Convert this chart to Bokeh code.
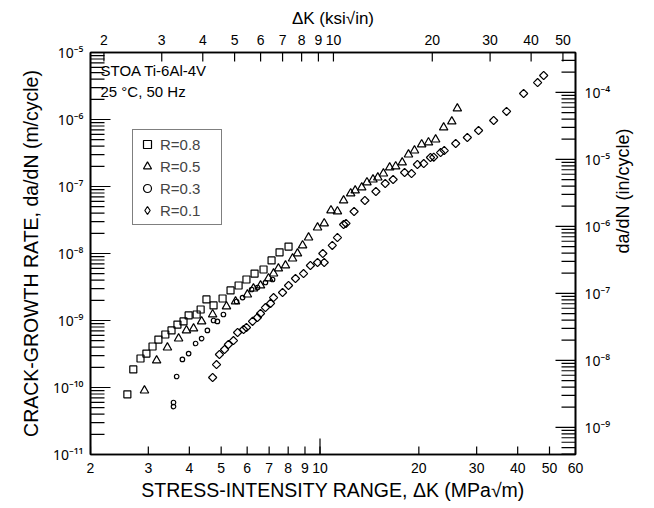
import math
from bokeh.plotting import figure
from bokeh.models import (LogAxis, Range1d, LogScale, FixedTicker,
                          CustomJSTickFormatter, Legend, LegendItem, Label)
from bokeh.embed import file_html
from bokeh.resources import INLINE

# ---------------- data (ΔK in MPa√m, da/dN in m/cycle) ----------------
k_r08 = [2.59, 2.70, 2.84, 2.96, 3.09, 3.22, 3.38, 3.53, 3.68, 3.84, 3.98, 4.21,
         4.33, 4.51, 4.74, 5.05, 5.34, 5.65, 5.97, 6.32, 6.73, 7.12, 7.53, 8.02]
dadn_r08 = [7.9e-11, 1.86e-10, 2.71e-10, 3.21e-10, 4.09e-10, 5.2e-10, 6.18e-10,
            7.1e-10, 8.7e-10, 9.7e-10, 1.19e-9, 1.23e-9, 1.46e-9, 2.06e-9, 1.68e-9,
            2.13e-9, 2.81e-9, 3.33e-9, 4.09e-9, 5.02e-9, 5.77e-9, 7.87e-9, 1.04e-8, 1.27e-8]

k_r05 = [2.92, 3.18, 3.43, 3.71, 3.92, 4.12, 4.36, 4.71, 5.19, 5.53, 6.01, 6.27,
         6.59, 6.97, 7.22, 7.47, 7.85, 8.25, 8.54, 8.85, 9.23, 9.83, 10.3, 10.8,
         11.3, 11.8, 12.4, 12.8, 13.4, 13.9, 14.5, 15.0, 15.6, 16.3, 17.0, 17.8,
         18.6, 19.4, 20.4, 21.4, 22.5, 23.8, 25.2, 26.2]
dadn_r05 = [9.0e-11, 2.53e-10, 3.95e-10, 5.38e-10, 7.1e-10, 7.6e-10, 9.7e-10, 1.23e-9,
            1.62e-9, 1.92e-9, 2.44e-9, 3.0e-9, 3.33e-9, 4.24e-9, 5.02e-9, 5.97e-9,
            6.62e-9, 8.41e-9, 1.0e-8, 1.32e-8, 1.73e-8, 2.44e-8, 2.81e-8, 4.39e-8,
            4.24e-8, 6.18e-8, 7.87e-8, 8.71e-8, 9.66e-8, 1.15e-7, 1.27e-7, 1.36e-7,
            1.56e-7, 1.92e-7, 1.99e-7, 2.28e-7, 3.0e-7, 3.44e-7, 4.24e-7, 4.54e-7,
            5.02e-7, 7.6e-7, 9.33e-7, 1.46e-6]

k_r03 = [3.58, 3.58, 3.66, 3.81, 3.98, 4.18, 4.36, 4.54, 4.74, 4.87, 5.08, 5.57,
         5.81, 6.19, 6.45, 6.82, 7.17]
dadn_r03 = [5.97e-11, 5.2e-11, 1.46e-10, 2.62e-10, 3.21e-10, 4.54e-10, 5.38e-10,
            7.1e-10, 1.0e-9, 9.7e-10, 1.23e-9, 1.92e-9, 2.2e-9, 2.9e-9, 3.11e-9,
            3.69e-9, 4.09e-9]

k_r01 = [4.71, 4.84, 4.94, 5.12, 5.26, 5.45, 5.61, 5.85, 5.97, 6.23, 6.45, 6.59,
         6.82, 7.07, 7.22, 7.69, 8.02, 8.42, 8.91, 9.35, 9.83, 10.2, 10.3, 10.9,
         11.3, 11.8, 12.0, 12.7, 13.7, 14.8, 15.8, 16.7, 18.1, 19.0, 19.8, 20.7,
         21.7, 22.2, 23.3, 23.9, 25.9, 28.1, 30.4, 33.8, 37.0, 41.7, 46.0, 48.0]
dadn_r01 = [1.41e-10, 2.2e-10, 3.11e-10, 3.69e-10, 4.39e-10, 5.02e-10, 6.62e-10,
            7.35e-10, 7.87e-10, 9.7e-10, 1.11e-9, 1.27e-9, 1.56e-9, 1.8e-9, 2.2e-9,
            2.62e-9, 3.33e-9, 4.24e-9, 5.02e-9, 6.62e-9, 7.35e-9, 1.0e-8, 7.35e-9,
            1.32e-8, 1.73e-8, 2.71e-8, 2.81e-8, 4.24e-8, 6.18e-8, 8.41e-8, 1.11e-7,
            1.27e-7, 1.62e-7, 1.56e-7, 2.13e-7, 2.2e-7, 2.71e-7, 2.74e-7, 3.21e-7,
            3.44e-7, 4.39e-7, 5.38e-7, 6.86e-7, 9.66e-7, 1.32e-6, 2.44e-6, 3.56e-6,
            4.54e-6]

series_labels = ["R=0.8", "R=0.5", "R=0.3", "R=0.1"]

# ---------------- ticks ----------------
x_ticks = [2, 3, 4, 5, 6, 7, 8, 9, 10, 20, 30, 40, 50, 60]
x_tick_labels = ["2", "3", "4", "5", "6", "7", "8", "9", "10", "20", "30", "40", "50", "60"]
top_ticks = [2, 3, 4, 5, 6, 7, 8, 9, 10, 20, 30, 40, 50]
top_tick_labels = ["2", "3", "4", "5", "6", "7", "8", "9", "10", "20", "30", "40", "50"]
y_ticks = [1e-11, 1e-10, 1e-9, 1e-8, 1e-7, 1e-6, 1e-5]
y_tick_labels = ["10⁻¹¹", "10⁻¹⁰", "10⁻⁹", "10⁻⁸", "10⁻⁷", "10⁻⁶", "10⁻⁵"]
right_ticks = [1e-9, 1e-8, 1e-7, 1e-6, 1e-5, 1e-4]
right_tick_labels = ["10⁻⁹", "10⁻⁸", "10⁻⁷", "10⁻⁶", "10⁻⁵", "10⁻⁴"]

MPA_PER_KSI = 1.0988
IN_PER_M = 39.37
X_MIN, X_MAX = 2, 60
Y_MIN, Y_MAX = 1e-11, 1e-5

FONT = "Liberation Sans"
SUP_FONT = "Noto Sans"

# ---------------- layout (pixels) ----------------
W, H = 654, 508
F_LEFT, F_RIGHT, F_TOP, F_BOTTOM = 90, 575, 52, 454

def px_to_x(px):
    f = (px - F_LEFT) / (F_RIGHT - F_LEFT)
    return X_MIN * (X_MAX / X_MIN) ** f

def px_to_y(py):
    f = (F_BOTTOM - py) / (F_BOTTOM - F_TOP)
    return Y_MIN * (Y_MAX / Y_MIN) ** f

def fmt(tv, tl):
    return CustomJSTickFormatter(args=dict(tv=tv, tl=tl), code="""
        for (let i = 0; i < tv.length; i++) {
            if (Math.abs(Math.log10(tv[i]) - Math.log10(tick)) < 1e-6) return tl[i];
        }
        return "";
    """)

def log_minor(lo, hi):
    out = []
    for e in range(-14, 4):
        for m in range(2, 10):
            v = m * 10.0 ** e
            if lo < v < hi:
                out.append(v)
    return out

p = figure(width=W, height=H, x_axis_type="log", y_axis_type="log",
           x_range=Range1d(X_MIN, X_MAX), y_range=Range1d(Y_MIN, Y_MAX),
           output_backend="svg", toolbar_location=None,
           min_border_left=F_LEFT, min_border_right=W - F_RIGHT,
           min_border_top=F_TOP, min_border_bottom=H - F_BOTTOM)
p.xgrid.visible = False
p.ygrid.visible = False
p.outline_line_color = "black"
p.outline_line_width = 1.6
p.background_fill_color = None
p.border_fill_color = "white"

p.extra_x_ranges = {"ksi": Range1d(X_MIN / MPA_PER_KSI, X_MAX / MPA_PER_KSI)}
p.extra_x_scales = {"ksi": LogScale()}
p.extra_y_ranges = {"in": Range1d(Y_MIN * IN_PER_M, Y_MAX * IN_PER_M)}
p.extra_y_scales = {"in": LogScale()}

def style(ax, tick_size, label, label_size, standoff, font=FONT):
    ax.axis_line_color = "black"
    ax.axis_line_width = 1.6
    ax.major_tick_in = 0
    ax.major_tick_out = 0
    ax.minor_tick_in = 0
    ax.minor_tick_out = 0
    ax.major_label_text_font = font
    ax.major_label_text_font_size = tick_size
    ax.major_label_text_color = "black"
    ax.axis_label = label
    ax.axis_label_text_font = FONT
    ax.axis_label_text_font_style = "normal"
    ax.axis_label_text_font_size = label_size
    ax.axis_label_text_color = "black"
    ax.axis_label_standoff = standoff

bx = p.xaxis[0]
bx.ticker = FixedTicker(ticks=x_ticks, minor_ticks=[])
bx.formatter = fmt(x_ticks, x_tick_labels)
style(bx, "14px", "STRESS-INTENSITY RANGE, ΔK (MPa√m)", "19.5px", 3)
bx.major_label_standoff = 8

ly = p.yaxis[0]
ly.ticker = FixedTicker(ticks=y_ticks, minor_ticks=[])
ly.formatter = fmt(y_ticks, y_tick_labels)
style(ly, "14px", "CRACK-GROWTH RATE, da/dN (m/cycle)", "19.5px", 8, SUP_FONT)
ly.major_label_standoff = 7

tx = LogAxis(x_range_name="ksi", ticker=FixedTicker(ticks=top_ticks, minor_ticks=[]),
             formatter=fmt(top_ticks, top_tick_labels))
style(tx, "14px", "ΔK (ksi√in)", "17px", 4)
tx.major_label_standoff = 8
p.add_layout(tx, "above")

ry = LogAxis(y_range_name="in", ticker=FixedTicker(ticks=right_ticks, minor_ticks=[]),
             formatter=fmt(right_ticks, right_tick_labels))
style(ry, "14px", "da/dN (in/cycle)", "18px", 10, SUP_FONT)
ry.major_label_standoff = 9
ry.axis_label_orientation = math.pi / 2
p.add_layout(ry, "right")

# ---------------- inward tick marks ----------------
tick = dict(line_color="black", line_width=1.2, length_units="screen")
up, down, right_dir, left_dir = math.pi / 2, -math.pi / 2, 0.0, math.pi
p.ray(x=x_ticks, y=[Y_MIN] * len(x_ticks), length=8, angle=up, **tick)
p.ray(x=[10], y=[Y_MIN], length=16, angle=up, **tick)
p.ray(x=top_ticks, y=[Y_MAX] * len(top_ticks), length=9, angle=down,
      x_range_name="ksi", **tick)
left_minor = log_minor(Y_MIN, Y_MAX)
p.ray(x=[X_MIN] * len(y_ticks), y=y_ticks, length=20, angle=right_dir, **tick)
p.ray(x=[X_MIN] * len(left_minor), y=left_minor, length=14, angle=right_dir, **tick)
right_minor = log_minor(Y_MIN * IN_PER_M, Y_MAX * IN_PER_M)
p.ray(x=[X_MAX] * len(right_ticks), y=right_ticks, length=20, angle=left_dir,
      y_range_name="in", **tick)
p.ray(x=[X_MAX] * len(right_minor), y=right_minor, length=14, angle=left_dir,
      y_range_name="in", **tick)

# ---------------- data ----------------
common = dict(line_color="black", fill_color=None, line_width=1.2)
r1 = p.scatter(k_r08, dadn_r08, marker="square", size=7, **common)
r2 = p.scatter(k_r05, dadn_r05, marker="triangle", size=8.5, **common)
r3 = p.scatter(k_r03, dadn_r03, marker="circle", size=4.5, **common)
r4 = p.scatter(k_r01, dadn_r01, marker="square", angle=math.pi / 4, size=5.8, **common)
# legend swatch for the diamond series (legend swatches ignore marker angle);
# size 0 so nothing extra is drawn on the plot
r4_key = p.scatter(k_r01[:1], dadn_r01[:1], marker="diamond", size=0, **common)

legend = Legend(items=[LegendItem(label=lbl, renderers=[r]) for lbl, r in
                       zip(series_labels, [r1, r2, r3, r4_key])],
                location=(42, 229))
legend.border_line_color = "black"
legend.border_line_width = 1
legend.background_fill_color = "white"
legend.label_text_font = FONT
legend.label_text_font_size = "15px"
legend.glyph_width = 20
legend.glyph_height = 20
legend.label_height = 20
legend.spacing = 2
legend.padding = 4
legend.label_standoff = 3
legend.label_width = 57
legend.margin = 0
p.add_layout(legend)

# ---------------- texts inside the frame ----------------
def add_text(px, py, text, size):
    p.add_layout(Label(x=px_to_x(px), y=px_to_y(py), text=text,
                       text_font=FONT, text_font_size=size,
                       text_align="left", text_baseline="middle", text_color="black"))

add_text(100, 70, "STOA Ti-6Al-4V", "15px")
add_text(100, 91, "25 °C, 50 Hz", "15px")

open("out.html", "w").write(file_html(p, INLINE))
